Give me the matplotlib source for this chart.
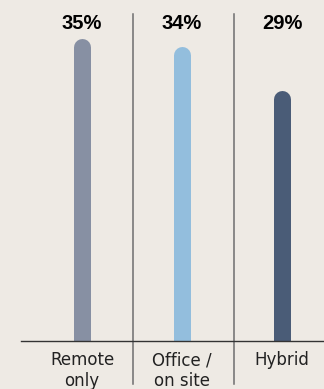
import matplotlib
matplotlib.use('Agg')
import matplotlib.pyplot as plt
import matplotlib.transforms as mtransforms

# Data
categories = ['Remote\nonly', 'Office /\non site', 'Hybrid']
values = [35, 34, 29]
labels = ['35%', '34%', '29%']
colors = ['#8790A3', '#93BEDD', '#4A5C77']

bg = '#EEEAE4'
fig = plt.figure(figsize=(3.24, 3.89), dpi=100, facecolor=bg)
ax = fig.add_axes([21 / 324, 48 / 389, 303 / 324, 341 / 389])
ax.set_facecolor(bg)

ytop = 39.4
ax.set_xlim(-0.61, 2.42)
ax.set_ylim(0, ytop)

# rounded bars drawn as thick lines with round caps
bar_px = 17
lw = bar_px * 72 / fig.dpi
px_per_unit = 341 / ytop
cap = (bar_px / 2) / px_per_unit
for i, (v, c) in enumerate(zip(values, colors)):
    ax.plot([i, i], [-5, v - cap], color=c, lw=lw, solid_capstyle='round')

# separators between groups
trans = mtransforms.blended_transform_factory(ax.transData, ax.transAxes)
for xs in [0.51, 1.52]:
    ax.plot([xs, xs], [-0.126, 0.959], color='#6e6e6e', lw=1.1,
            transform=trans, clip_on=False)

# value labels on top
for i, t in enumerate(labels):
    ax.text(i, 0.932, t, transform=trans, ha='center', va='center',
            fontsize=14.5, fontweight='bold', family='Liberation Sans',
            color='#000000')

ax.set_xticks(range(len(categories)))
ax.set_xticklabels(categories, fontsize=12, color='#222222', linespacing=1.15)
ax.tick_params(axis='x', length=0, pad=7.5)
ax.set_yticks([])
for s in ['top', 'right', 'left']:
    ax.spines[s].set_visible(False)
ax.spines['bottom'].set_color('#333333')
ax.spines['bottom'].set_linewidth(1.0)

fig.savefig('out.png', dpi=100, facecolor=bg)
